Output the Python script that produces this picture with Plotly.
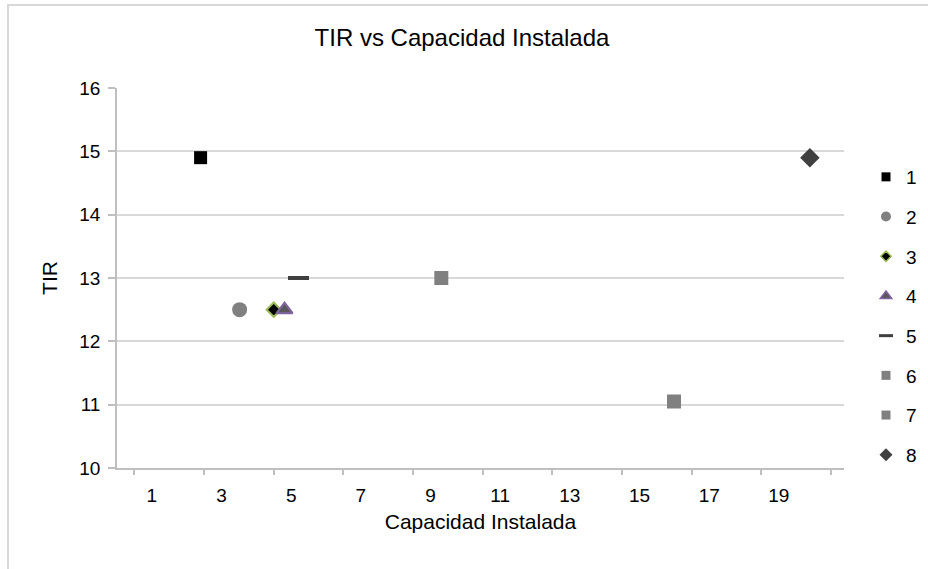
import plotly.graph_objects as go

# ---- data ----
series_names = ["1", "2", "3", "4", "5", "6", "7", "8"]
capacidad = [2.40, 3.52, 4.50, 4.81, 5.21, 9.31, 15.99, 19.89]
tir = [14.9, 12.5, 12.5, 12.5, 13.0, 13.0, 11.05, 14.9]
x_tick_labels = [1, 3, 5, 7, 9, 11, 13, 15, 17, 19]
x_minor_ticks = [0.5, 2.5, 4.5, 6.5, 8.5, 10.5, 12.5, 14.5, 16.5, 18.5, 20.5]
y_ticks = [10, 11, 12, 13, 14, 15, 16]

# ---- styles ----
styles = [
    dict(symbol="square", size=13, color="#000000", line=dict(width=0)),
    dict(symbol="circle", size=15, color="#808080", line=dict(width=0)),
    dict(symbol="diamond", size=11, color="#000000", line=dict(width=2, color="#9bbb59")),
    dict(symbol="triangle-up", size=14, color="#595959", line=dict(width=2, color="#8064a2")),
    dict(symbol="line-ew", size=15, color="#404040", line=dict(width=4, color="#404040")),
    dict(symbol="square", size=14, color="#808080", line=dict(width=0)),
    dict(symbol="square", size=14, color="#808080", line=dict(width=0)),
    dict(symbol="diamond", size=15, color="#404040", line=dict(width=0)),
]
legend_styles = [
    dict(symbol="square", size=9, color="#000000", line=dict(width=0)),
    dict(symbol="circle", size=10, color="#808080", line=dict(width=0)),
    dict(symbol="diamond", size=8, color="#000000", line=dict(width=1.5, color="#9bbb59")),
    dict(symbol="triangle-up", size=10, color="#595959", line=dict(width=1.5, color="#8064a2")),
    dict(symbol="line-ew", size=10, color="#404040", line=dict(width=3, color="#404040")),
    dict(symbol="square", size=9, color="#808080", line=dict(width=0)),
    dict(symbol="square", size=9, color="#808080", line=dict(width=0)),
    dict(symbol="diamond", size=10, color="#404040", line=dict(width=0)),
]

fig = go.Figure()
for i, name in enumerate(series_names):
    fig.add_trace(go.Scatter(
        x=[capacidad[i]], y=[tir[i]], mode="markers", name=name,
        marker=styles[i], showlegend=False, legendgroup=name,
    ))
for i, name in enumerate(series_names):
    fig.add_trace(go.Scatter(
        x=[None], y=[None], mode="markers", name=name,
        marker=legend_styles[i], showlegend=True, legendgroup=name,
    ))

L, R, T, B = 117, 84, 88, 101
W, H = 928, 569
pw, ph = W - L - R, H - T - B

fig.update_layout(
    width=W, height=H,
    margin=dict(l=L, r=R, t=T, b=B, autoexpand=False),
    paper_bgcolor="white", plot_bgcolor="white",
    font=dict(family="Liberation Sans, Arial, sans-serif", size=19, color="#000000"),
    title=dict(text="TIR vs Capacidad Instalada", x=462 / W, xref="container", xanchor="center",
               y=1 - 38 / H, yanchor="middle", font=dict(size=24)),
    showlegend=True,
    legend=dict(x=1 + (866 - (L + pw)) / pw, xanchor="left", y=1 - (158 - T) / ph, yanchor="top",
                traceorder="grouped", tracegroupgap=12, font=dict(size=19),
                bgcolor="rgba(0,0,0,0)", itemwidth=30),
    xaxis=dict(
        range=[0, 20.87], tickvals=x_tick_labels, ticktext=[str(v) for v in x_tick_labels],
        ticks="outside", ticklen=9, tickcolor="rgba(0,0,0,0)", tickfont=dict(size=19),
        showgrid=False, zeroline=False, showline=True, linecolor="#bfbfbf", linewidth=1.5,
        minor=dict(tickvals=x_minor_ticks, ticks="outside", ticklen=5, tickcolor="#bfbfbf",
                   tickwidth=1.5, showgrid=False),
        title=dict(text="Capacidad Instalada", standoff=10, font=dict(size=21)),
    ),
    yaxis=dict(
        range=[10, 16], tickvals=y_ticks, ticks="outside", ticklen=7, tickcolor="#bfbfbf",
        tickwidth=1.5, showgrid=True, gridcolor="#d9d9d9", gridwidth=1.5, zeroline=False,
        showline=True, linecolor="#bfbfbf", linewidth=1.5, tickfont=dict(size=19),
        ticklabelstandoff=4,
        title=dict(text="TIR", standoff=16, font=dict(size=21)),
    ),
)

# outer chart border (extends past right/bottom edges)
fig.add_shape(type="rect", xref="paper", yref="paper",
              x0=(8 - L) / pw, x1=(W + 10 - L) / pw,
              y0=-(H + 10 - T - ph) / ph, y1=1 + (T - 5) / ph,
              line=dict(color="#d9d9d9", width=2), fillcolor="rgba(0,0,0,0)", layer="below")

fig.write_html("out.html")
